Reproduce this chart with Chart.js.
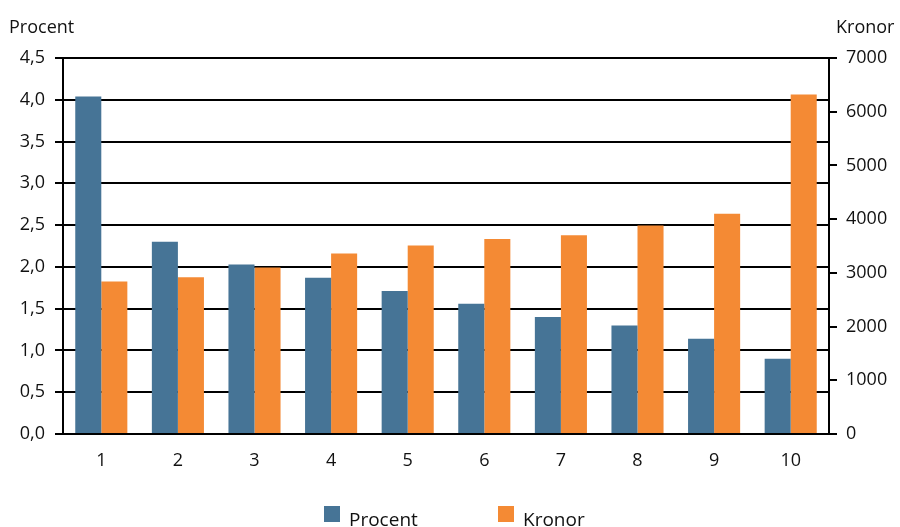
<!DOCTYPE html>
<html>
<head>
<meta charset="utf-8">
<script src="https://cdn.jsdelivr.net/npm/chart.js@4.4.1/dist/chart.umd.min.js"></script>
<style>
  html, body { margin: 0; padding: 0; background: #fff; }
  #wrap { width: 900px; height: 527px; position: relative; }
</style>
</head>
<body>
<div id="wrap"><canvas id="c" width="900" height="527"></canvas></div>
<script>
// Deciles 1–10
const categories = ['1', '2', '3', '4', '5', '6', '7', '8', '9', '10'];
// Share of income (left axis, percent)
const procentValues = [4.04, 2.30, 2.03, 1.87, 1.71, 1.56, 1.40, 1.30, 1.14, 0.90];
// Amount (right axis, SEK)
const kronorValues = [2840, 2920, 3100, 3360, 3510, 3630, 3700, 3880, 4100, 6320];
// Left axis tick labels, 0 to 4,5 in steps of 0,5
const leftTickLabels = ['0,0', '0,5', '1,0', '1,5', '2,0', '2,5', '3,0', '3,5', '4,0', '4,5'];
// Right axis tick labels, 0 to 7000 in steps of 1000
const rightTickLabels = ['0', '1000', '2000', '3000', '4000', '5000', '6000', '7000'];
const leftTitle = 'Procent';
const rightTitle = 'Kronor';

const BLUE = '#467496';
const ORANGE = '#F48A34';
const FONT = 'Open Sans';

// Axis titles above both value axes and a legend row at the bottom
const decorations = {
  id: 'decorations',
  afterDraw(chart) {
    const ctx = chart.ctx;
    const area = chart.chartArea;
    ctx.save();
    ctx.fillStyle = '#111';
    ctx.font = '18px "' + FONT + '"';
    ctx.textBaseline = 'alphabetic';
    ctx.textAlign = 'left';
    ctx.fillText(leftTitle, 9, 33);
    ctx.fillText(rightTitle, area.right + 7, 33);

    ctx.font = '19px "' + FONT + '"';
    const items = chart.data.datasets;
    const starts = [324, 498];
    items.forEach((ds, i) => {
      const x = starts[i];
      ctx.fillStyle = ds.backgroundColor;
      ctx.fillRect(x, 506, 16, 16);
      ctx.fillStyle = '#111';
      ctx.fillText(ds.label, x + 25, 526);
    });
    ctx.restore();
  }
};

new Chart(document.getElementById('c'), {
  type: 'bar',
  data: {
    labels: categories,
    datasets: [
      { label: 'Procent', data: procentValues, backgroundColor: BLUE, yAxisID: 'y' },
      { label: 'Kronor', data: kronorValues, backgroundColor: ORANGE, yAxisID: 'y1' }
    ]
  },
  options: {
    responsive: false,
    animation: false,
    devicePixelRatio: 1,
    layout: { padding: { top: 58, left: 0, right: 0, bottom: 0 } },
    datasets: { bar: { categoryPercentage: 0.68, barPercentage: 1.0 } },
    plugins: {
      legend: { display: false },
      tooltip: { enabled: false }
    },
    scales: {
      x: {
        grid: { display: false, drawTicks: false },
        border: { display: true, color: '#000', width: 2 },
        ticks: { color: '#111', font: { family: FONT, size: 18 }, padding: 16 },
        afterFit(scale) { scale.height = 93; }
      },
      y: {
        position: 'left',
        min: 0, max: 4.5,
        ticks: {
          stepSize: 0.5,
          color: '#111',
          font: { family: FONT, size: 18 },
          padding: 10,
          callback: (v, i) => leftTickLabels[i]
        },
        grid: { color: '#000', lineWidth: 2, tickLength: 8, drawTicks: true },
        border: { display: true, color: '#000', width: 2 },
        afterFit(scale) { scale.width = 63; }
      },
      y1: {
        position: 'right',
        min: 0, max: 7000,
        ticks: {
          stepSize: 1000,
          color: '#111',
          font: { family: FONT, size: 18 },
          padding: 9,
          callback: (v, i) => rightTickLabels[i]
        },
        grid: { drawOnChartArea: false, color: '#000', lineWidth: 2, tickLength: 8, drawTicks: true },
        border: { display: true, color: '#000', width: 2 },
        afterFit(scale) { scale.width = 71; }
      }
    }
  },
  plugins: [decorations]
});
</script>
</body>
</html>
